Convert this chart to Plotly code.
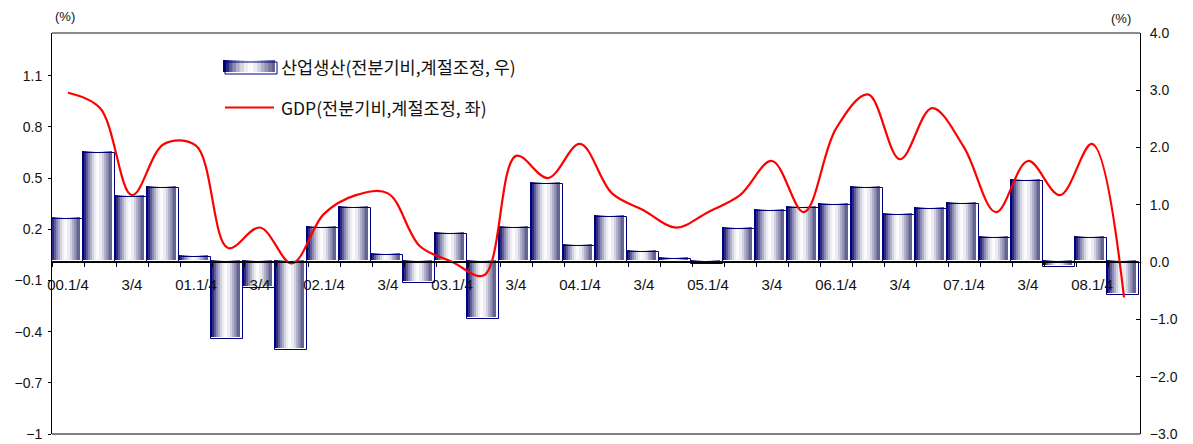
import plotly.graph_objects as go

# ---------------- data ----------------
quarters = ["00.1/4", "00.2/4", "00.3/4", "00.4/4",
            "01.1/4", "01.2/4", "01.3/4", "01.4/4",
            "02.1/4", "02.2/4", "02.3/4", "02.4/4",
            "03.1/4", "03.2/4", "03.3/4", "03.4/4",
            "04.1/4", "04.2/4", "04.3/4", "04.4/4",
            "05.1/4", "05.2/4", "05.3/4", "05.4/4",
            "06.1/4", "06.2/4", "06.3/4", "06.4/4",
            "07.1/4", "07.2/4", "07.3/4", "07.4/4",
            "08.1/4", "08.2/4"]
tick_labels = ["00.1/4", "", "3/4", "",
               "01.1/4", "", "3/4", "",
               "02.1/4", "", "3/4", "",
               "03.1/4", "", "3/4", "",
               "04.1/4", "", "3/4", "",
               "05.1/4", "", "3/4", "",
               "06.1/4", "", "3/4", "",
               "07.1/4", "", "3/4", "",
               "08.1/4", ""]
# 산업생산 (right axis)
industrial = [0.75, 1.90, 1.13, 1.30, 0.09, -1.35, -0.45, -1.53,
              0.60, 0.95, 0.13, -0.37, 0.50, -1.00, 0.60, 1.37,
              0.29, 0.78, 0.18, 0.06, -0.03, 0.57, 0.90, 0.95,
              0.99, 1.30, 0.82, 0.92, 1.02, 0.43, 1.41, -0.09,
              0.43, -0.58]
# GDP (left axis)
gdp = [1.00, 0.91, 0.40, 0.70, 0.69, 0.09, 0.21, 0.00,
       0.29, 0.40, 0.41, 0.10, 0.01, -0.07, 0.63, 0.50,
       0.70, 0.41, 0.31, 0.21, 0.30, 0.40, 0.60, 0.30,
       0.79, 0.99, 0.61, 0.91, 0.68, 0.30, 0.60, 0.40,
       0.70, -0.20]
left_ticks = [-1, -0.7, -0.4, -0.1, 0.2, 0.5, 0.8, 1.1]
right_ticks = [-3, -2, -1, 0, 1, 2, 3, 4]
legend_bar = "산업생산(전분기비,계절조정, 우)"
legend_line = "GDP(전분기비,계절조정, 좌)"

# ---------------- style ----------------
grad_stops = [0.00, 0.06, 0.12, 0.18, 0.25, 0.32, 0.40, 0.48,
              0.58, 0.66, 0.73, 0.80, 0.87, 0.94]
grad_colors = ["#000070", "#2c2c86", "#5e5e9c", "#8a8ab4", "#b0b0ca",
               "#d2d2e0", "#ececf2", "#fbfbfd", "#ececf2", "#d0d0de",
               "#b0b0c8", "#9494b2", "#7878a0", "#64648f"]
FILL_LEFT = -0.55
FILL_W = 0.91
SHIFT = 0.035  # 3D offset of the gradient body (right-axis units)

W, H = 1193, 444
OFF = 8                       # page body margin
SL, ST, SR, SB = 52, 33, 1140, 434   # plot box in screen pixels
PW, PH = SR - SL, SB - ST
L, T = SL - OFF, ST - OFF
R, B = W - (SR - OFF), H - (SB - OFF)


def px(x):
    return (x - SL) / PW


def py(y):
    return (SB - y) / PH


fig = go.Figure()

# gradient body of bars (layered strips, each covering to the right end)
for f, c in zip(grad_stops, grad_colors):
    fig.add_trace(go.Bar(
        x=quarters, y=industrial, base=SHIFT,
        offset=FILL_LEFT + FILL_W * f, width=FILL_W * (1 - f),
        marker=dict(color=c, line=dict(width=0)),
        yaxis="y", showlegend=False, hoverinfo="skip"))

# outline of bars
fig.add_trace(go.Bar(
    x=quarters, y=industrial, offset=-0.53, width=1.0,
    marker=dict(color="rgba(0,0,0,0)", line=dict(color="#00007f", width=1)),
    yaxis="y", showlegend=False, hoverinfo="skip"))

# GDP line
fig.add_trace(go.Scatter(
    x=quarters, y=gdp, mode="lines",
    line=dict(color="#ff0000", width=2.2, shape="spline", smoothing=1.0),
    yaxis="y2", showlegend=False, hoverinfo="skip"))

num_font = dict(family="Liberation Sans, Arial, sans-serif", size=14, color="#111111")

fig.update_layout(
    width=W, height=H,
    margin=dict(l=L, r=R, t=T, b=B, autoexpand=False),
    plot_bgcolor="white", paper_bgcolor="white",
    barmode="overlay", bargap=0, showlegend=False,
    xaxis=dict(
        type="category", categoryorder="array", categoryarray=quarters,
        range=[-0.5, 33.5], anchor="free", position=3 / 7,
        showline=True, linecolor="black", linewidth=1,
        ticks="outside", ticklen=4, tickcolor="black", tickson="boundaries",
        tickmode="array", tickvals=quarters, ticktext=tick_labels,
        tickangle=0,
        tickfont=dict(family="Liberation Sans, Arial, sans-serif", size=15, color="#111111"),
        ticklabelstandoff=9,
        showgrid=False, zeroline=False, layer="above traces"),
    yaxis=dict(
        side="right", range=[-3, 4], tickmode="array", tickvals=right_ticks,
        tickformat=".1f", ticks="inside", ticklen=4, tickcolor="black",
        showline=True, linecolor="black", linewidth=1,
        showgrid=False, zeroline=False, tickfont=num_font,
        ticklabelstandoff=6),
    yaxis2=dict(
        overlaying="y", side="left", range=[-1, 1.35],
        tickmode="array", tickvals=left_ticks,
        ticks="outside", ticklen=3, tickcolor="black",
        showline=True, linecolor="black", linewidth=1,
        showgrid=False, zeroline=False, tickfont=num_font,
        ticklabelstandoff=3),
)

shapes = [
    dict(type="line", xref="paper", yref="paper", x0=0, x1=1, y0=1, y1=1,
         line=dict(color="#666666", width=1.5)),
    dict(type="line", xref="paper", yref="paper", x0=0, x1=1, y0=0, y1=0,
         line=dict(color="black", width=1)),
]
# legend: gradient symbol for bars
sx0, sx1, sy0, sy1 = 223, 275, 60, 72
for f, c in zip(grad_stops, grad_colors):
    shapes.append(dict(type="rect", xref="paper", yref="paper",
                       x0=px(sx0 + (sx1 - sx0) * f), x1=px(sx1),
                       y0=py(sy1), y1=py(sy0),
                       line=dict(width=0), fillcolor=c, layer="above"))
shapes.append(dict(type="rect", xref="paper", yref="paper",
                   x0=px(sx0 + 2), x1=px(sx1 + 2), y0=py(sy1 + 2), y1=py(sy0 + 2),
                   line=dict(color="#00007f", width=1), fillcolor="rgba(0,0,0,0)",
                   layer="above"))
# legend: line symbol
shapes.append(dict(type="line", xref="paper", yref="paper",
                   x0=px(225), x1=px(274), y0=py(107.5), y1=py(107.5),
                   line=dict(color="#ff0000", width=2), layer="above"))
fig.update_layout(shapes=shapes)

kfont = dict(family="Noto Sans CJK KR, sans-serif", size=17.5, color="#111111")
annotations = [
    dict(text=legend_bar, xref="paper", yref="paper", x=px(279), y=py(66.5),
         xanchor="left", yanchor="middle", showarrow=False, font=kfont),
    dict(text=legend_line, xref="paper", yref="paper", x=px(279), y=py(107.5),
         xanchor="left", yanchor="middle", showarrow=False, font=kfont),
    dict(text="(%)", xref="paper", yref="paper", x=px(65), y=py(16),
         xanchor="center", yanchor="middle", showarrow=False,
         font=dict(family="Liberation Sans, Arial, sans-serif", size=13, color="#111111")),
    dict(text="(%)", xref="paper", yref="paper", x=px(1121), y=py(18),
         xanchor="center", yanchor="middle", showarrow=False,
         font=dict(family="Liberation Sans, Arial, sans-serif", size=13, color="#111111")),
]
fig.update_layout(annotations=annotations)

fig.write_html("out.html")
